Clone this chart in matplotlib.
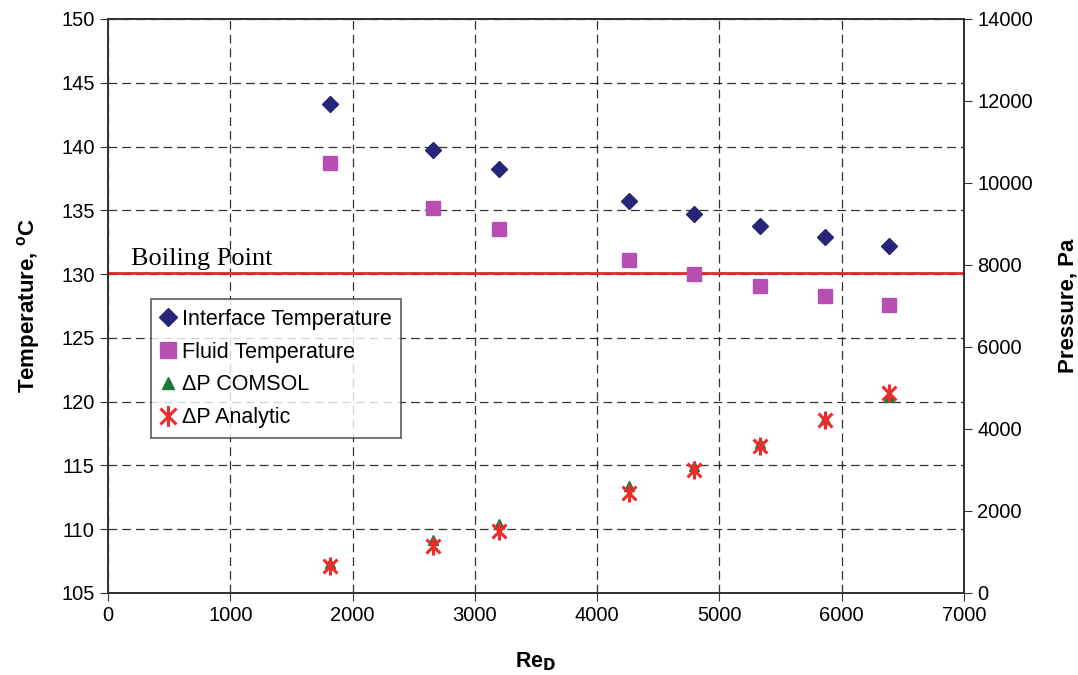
import matplotlib
matplotlib.use("Agg")
import matplotlib.pyplot as plt
from matplotlib.path import Path
import numpy as np

# Data
re_d = [1812, 2660, 3200, 4260, 4790, 5330, 5860, 6390]
interface_temp = [143.3, 139.7, 138.2, 135.7, 134.7, 133.8, 132.9, 132.2]
fluid_temp = [138.7, 135.2, 133.5, 131.1, 130.0, 129.1, 128.3, 127.6]
dp_comsol = [740, 1300, 1680, 2620, 3090, 3650, 4240, 4780]
dp_analytic = [660, 1146, 1500, 2446, 3000, 3585, 4220, 4885]
boiling_point = 130.1

plt.rcParams['font.family'] = ['Liberation Sans', 'DejaVu Sans']

# Excel-style star marker: an X with a vertical bar
star = Path([(-1, -1), (1, 1), (-1, 1), (1, -1), (0, -1.3), (0, 1.3)],
            [Path.MOVETO, Path.LINETO, Path.MOVETO, Path.LINETO, Path.MOVETO, Path.LINETO])

fig = plt.figure(figsize=(10.78, 6.75), dpi=100)
ax = fig.add_axes([0.1002, 0.1215, 0.794, 0.8504])
ax2 = ax.twinx()

ax.set_xlim(0, 7000)
ax.set_ylim(105, 150)
ax2.set_ylim(0, 14000)
ax.set_xticks(np.arange(0, 7001, 1000))
ax.set_yticks(np.arange(105, 151, 5))
ax2.set_yticks(np.arange(0, 14001, 2000))

ax.grid(True, color='black', linestyle=(0, (7, 4)), linewidth=0.9, alpha=0.8)
ax.set_axisbelow(True)

ax.axhline(boiling_point, color='#e3262b', linewidth=2, zorder=2)
ax.text(190, boiling_point + 0.2, 'Boiling Point', family='Liberation Serif',
        fontsize=19, va='bottom', ha='left')

h1, = ax.plot(re_d, interface_temp, linestyle='none', marker='D', markersize=8,
              color='#262678', label='Interface Temperature', zorder=3)
h2, = ax.plot(re_d, fluid_temp, linestyle='none', marker='s', markersize=10,
              color='#b64fb1', label='Fluid Temperature', zorder=3)
h3, = ax2.plot(re_d, dp_comsol, linestyle='none', marker='^', markersize=7,
               color='#1b7a3a', label='ΔP COMSOL', zorder=3)
h4, = ax2.plot(re_d, dp_analytic, linestyle='none', marker=star, markersize=13,
               markeredgewidth=2.2, color='#ee2a2a', label='ΔP Analytic', zorder=4)

for a in (ax, ax2):
    for s in a.spines.values():
        s.set_color('#333333')
        s.set_linewidth(1.3)
ax.tick_params(labelsize=14.5, length=6, color='#333333')
ax2.tick_params(labelsize=14.5, length=6, color='#333333')

ax.set_xlabel('Re$_\\mathbf{D}$', fontsize=15.5, fontweight='bold', labelpad=18)
ax.set_ylabel('Temperature, $^\\mathregular{o}$C', fontsize=16, fontweight='bold', labelpad=14)
ax2.set_ylabel('Pressure, Pa', fontsize=16, fontweight='bold', labelpad=18)

leg = ax.legend(handles=[h1, h2, h3, h4], loc='upper left', bbox_to_anchor=(0.05, 0.512),
                fontsize=15.5, frameon=True, fancybox=False, handlelength=0.7,
                handletextpad=0.3, borderpad=0.45, labelspacing=0.55, borderaxespad=0,
                markerscale=1.15)
leg.get_frame().set_edgecolor('#333333')
leg.get_frame().set_linewidth(1.2)
leg.set_zorder(5)

fig.savefig('out.png', dpi=100)
